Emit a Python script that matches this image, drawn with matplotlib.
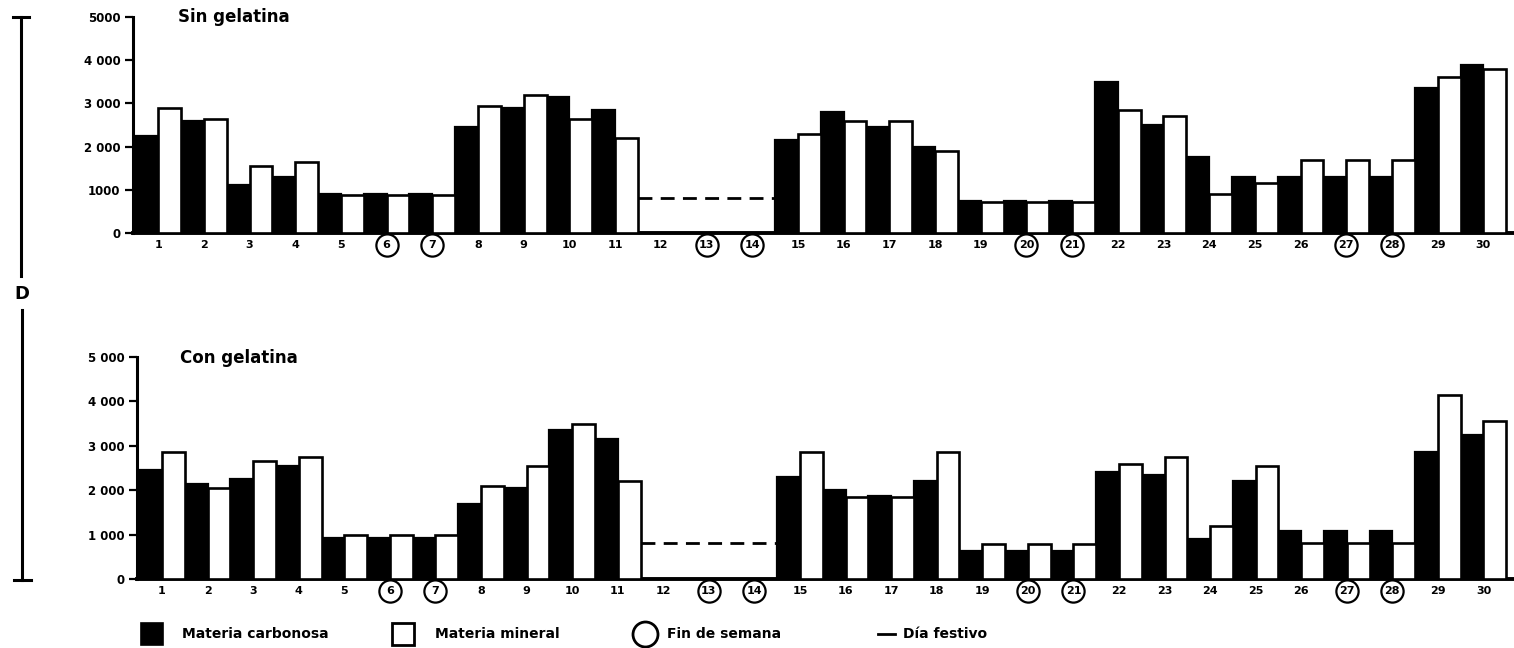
import numpy as np
import matplotlib
matplotlib.use('Agg')
import matplotlib.pyplot as plt
from matplotlib.lines import Line2D
from matplotlib.transforms import blended_transform_factory, offset_copy

# ---------------- data ----------------
days = list(range(1, 31))
weekend_days = [6, 7, 13, 14, 20, 21, 27, 28]
gap_days = [12, 13, 14]
gap_level_sin = 800
gap_level_con = 800
nan = np.nan

sin_carbonosa = [2250, 2600, 1100, 1300, 900, 900, 900, 2450, 2900, 3150,
                 2850, nan, nan, nan, 2150, 2800, 2450, 2000, 750, 750,
                 750, 3500, 2500, 1750, 1300, 1300, 1300, 1300, 3350, 3900]
sin_mineral = [2900, 2650, 1550, 1650, 870, 870, 870, 2950, 3200, 2650,
               2200, nan, nan, nan, 2300, 2600, 2600, 1900, 710, 710,
               710, 2850, 2700, 900, 1150, 1700, 1700, 1700, 3600, 3800]
con_carbonosa = [2450, 2150, 2250, 2550, 930, 930, 930, 1700, 2050, 3350,
                 3150, nan, nan, nan, 2300, 2000, 1870, 2200, 630, 630,
                 620, 2400, 2350, 900, 2200, 1080, 1080, 1080, 2850, 3250]
con_mineral = [2850, 2050, 2650, 2750, 1000, 1000, 1000, 2100, 2550, 3500,
               2200, nan, nan, nan, 2850, 1850, 1850, 2850, 790, 790,
               790, 2600, 2750, 1200, 2550, 800, 800, 800, 4150, 3550]

y_ticks = [0, 1000, 2000, 3000, 4000, 5000]
sin_ytick_labels = ['0', '1000', '2 000', '3 000', '4 000', '5000']
con_ytick_labels = ['0', '1 000', '2 000', '3 000', '4 000', '5 000']
panel_titles = ['Sin gelatina', 'Con gelatina']
legend_labels = ['Materia carbonosa', 'Materia mineral', 'Fin de semana', 'Día festivo']
axis_letter = 'D'

# ---------------- figure ----------------
plt.rcParams['font.family'] = ['DejaVu Sans']
plt.rcParams['font.weight'] = 'bold'

W, H = 1514, 648
fig = plt.figure(figsize=(W / 100, H / 100), dpi=100)


def fx(x):
    return x / W


def fy(y):
    return 1 - y / H


def panel(left_px, base_px, top_px, carb, mine, gap_level, ylabels, title, title_xy):
    ax = fig.add_axes([fx(left_px), fy(base_px), 1 - fx(left_px), (base_px - top_px) / H])
    x = np.array(days, float)
    c = np.array(carb, float)
    m = np.array(mine, float)
    ok = ~np.isnan(c)
    ax.bar(x[ok] - 0.5, c[ok], width=0.5, align='edge', color='black',
           edgecolor='black', lw=1.6, zorder=2)
    ax.bar(x[ok], m[ok], width=0.5, align='edge', color='white',
           edgecolor='black', lw=1.9, zorder=3)
    ax.hlines(gap_level, min(gap_days) - 0.5, max(gap_days) + 0.5, colors='black',
              linestyles=(0, (5, 3)), lw=2.0, zorder=3)
    ax.set_xlim(0.45, 30.67)
    ax.set_ylim(0, 5000)
    for s in ['top', 'right']:
        ax.spines[s].set_visible(False)
    ax.spines['left'].set_linewidth(2.2)
    ax.spines['bottom'].set_linewidth(2.8)
    ax.set_yticks(y_ticks)
    ax.set_yticklabels(ylabels, fontsize=8.5, fontweight='bold')
    ax.tick_params(axis='y', direction='out', length=6, width=1.6, pad=3)
    ax.set_xticks(days)
    ax.set_xticklabels([str(d) for d in days], fontsize=8, fontweight='bold')
    ax.tick_params(axis='x', length=0, pad=5)
    # circles around weekend day labels
    tr = offset_copy(blended_transform_factory(ax.transData, ax.transAxes),
                     fig=fig, x=0, y=-12 * 72 / 100, units='points')
    ax.plot(weekend_days, [0] * len(weekend_days), transform=tr, ls='none',
            marker='o', ms=16, mfc='none', mec='black', mew=1.6, clip_on=False)
    fig.text(fx(title_xy[0]), fy(title_xy[1]), title, fontsize=12, fontweight='bold',
             ha='left', va='center')
    return ax


panel(133, 233, 17, sin_carbonosa, sin_mineral, gap_level_sin,
      sin_ytick_labels, panel_titles[0], (178, 17))
panel(137, 579, 357, con_carbonosa, con_mineral, gap_level_con,
      con_ytick_labels, panel_titles[1], (180, 358))


# vertical D bracket
def fline(xs, ys, **kw):
    fig.add_artist(Line2D([fx(v) for v in xs], [fy(v) for v in ys],
                          transform=fig.transFigure, color='black', **kw))


fline([21, 21], [17, 276], lw=2.2)
fline([13, 29], [17, 17], lw=2.2)
fline([22, 22], [310, 580], lw=2.2)
fline([14, 31], [580, 580], lw=2.2)
fig.text(fx(22), fy(294), axis_letter, fontsize=13, fontweight='bold',
         ha='center', va='center')

# legend
ly = 634
fline([151.5], [ly], marker='s', ms=16, mfc='black', mec='black', mew=1.2, ls='none')
fig.text(fx(182), fy(ly), legend_labels[0], fontsize=10, fontweight='bold', ha='left', va='center')
fline([403], [ly], marker='s', ms=16, mfc='white', mec='black', mew=2.0, ls='none')
fig.text(fx(435), fy(ly), legend_labels[1], fontsize=10, fontweight='bold', ha='left', va='center')
fline([644.5], [ly], marker='o', ms=18, mfc='none', mec='black', mew=2.0, ls='none')
fig.text(fx(667), fy(ly), legend_labels[2], fontsize=10, fontweight='bold', ha='left', va='center')
fline([878, 895], [ly, ly], lw=2.0)
fig.text(fx(903), fy(ly), legend_labels[3], fontsize=10, fontweight='bold', ha='left', va='center')

fig.savefig('out.png', dpi=100)
